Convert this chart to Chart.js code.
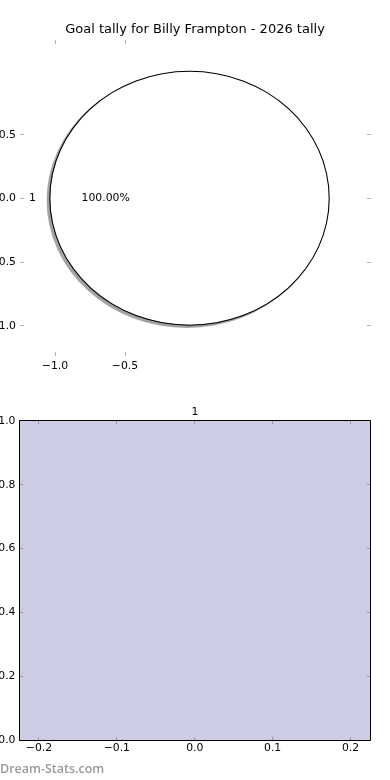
<!DOCTYPE html>
<html><head><meta charset="utf-8">
<script src="https://cdn.jsdelivr.net/npm/chart.js@4.4.1/dist/chart.umd.min.js"></script>
<style>
html,body{margin:0;padding:0;background:#fff;}
body{width:390px;height:780px;overflow:hidden;position:relative;}
canvas{position:absolute;display:block;}
#wm{position:absolute;left:0;top:763px;font:600 12.5px/12.5px 'Open Sans',sans-serif;color:#999;white-space:nowrap;}
</style></head><body>
<canvas id="axes" width="450" height="390" style="left:-30px;top:0px"></canvas>
<canvas id="shadow" width="361" height="300" style="left:9px;top:48px"></canvas>
<canvas id="pie" width="361" height="300" style="left:9px;top:48px"></canvas>
<canvas id="bar" width="450" height="390" style="left:-30px;top:390px"></canvas>
<div id="wm">Dream-Stats.com</div>
<script>
// ---- data ----
const titleText = 'Goal tally for Billy Frampton - 2026 tally';
const pieLabels = ['1'];
const pieValues = [1];
const pieXTicks = [-1.0, -0.5];
const pieYTicks = [0.5, 0.0, -0.5, -1.0];
const barCategories = ['1'];
const barValues = [1];
const barXTicks = [-0.2, -0.1, 0.0, 0.1, 0.2];
const barYTicks = [0.0, 0.2, 0.4, 0.6, 0.8, 1.0];

const FS = 10.83;
Chart.defaults.font.family = "'DejaVu Sans', sans-serif";
Chart.defaults.font.size = FS;
Chart.defaults.color = '#000';

const fmt = v => v.toFixed(1).replace('-', '\u2212');
const noGrid = { display: false, drawTicks: false, tickLength: 0 };
const spacerAxis = w => ({ type: 'linear', position: 'right', grid: noGrid, border: { display: false },
                           ticks: { display: false }, afterFit: s => { s.width = w; } });

const innerTicks = {
  id: 'innerTicks',
  afterDatasetsDraw(chart, args, o) {
    const {ctx, chartArea: a} = chart;
    const xs = chart.scales[o.x], ys = chart.scales[o.y];
    const T = Math.floor(a.top), B = Math.ceil(a.bottom), L = Math.floor(a.left), R = Math.ceil(a.right);
    const len = o.len;
    ctx.save();
    ctx.strokeStyle = o.color;
    ctx.lineWidth = 1;
    ctx.beginPath();
    xs.ticks.forEach(t => {
      const p = Math.floor(xs.getPixelForValue(t.value)) + 0.5;
      ctx.moveTo(p, T); ctx.lineTo(p, T + len);
      ctx.moveTo(p, B + 1); ctx.lineTo(p, B + 1 - len);
    });
    ys.ticks.forEach(t => {
      const q = Math.floor(ys.getPixelForValue(t.value)) + 0.5;
      ctx.moveTo(L, q); ctx.lineTo(L + len, q);
      ctx.moveTo(R + 1, q); ctx.lineTo(R + 1 - len, q);
    });
    ctx.stroke();
    if (o.frame) {
      ctx.strokeStyle = '#000';
      ctx.beginPath();
      ctx.rect(L + 0.5, T + 0.5, R - L, B - T);
      ctx.stroke();
    }
    ctx.restore();
  }
};

const pieShape = {
  id: 'pieShape',
  beforeDatasetsDraw(chart, args, o) {
    const arc = chart.getDatasetMeta(0).data[0];
    const ctx = chart.ctx;
    ctx.save();
    ctx.translate(arc.x, arc.y);
    ctx.scale(o.sx, 1);
    ctx.translate(-arc.x, -arc.y);
  },
  afterDatasetsDraw(chart, args, o) {
    const ctx = chart.ctx;
    ctx.restore();
    if (!o.labels) return;
    const outer = chart.getDatasetMeta(0).data;
    const meta = chart.getDatasetMeta(chart.data.datasets.length - 1);
    const total = pieValues.reduce((s, v) => s + v, 0);
    ctx.save();
    ctx.font = FS + "px 'DejaVu Sans', sans-serif";
    ctx.fillStyle = '#000';
    ctx.textBaseline = 'middle';
    meta.data.forEach((arc, i) => {
      const mid = (arc.startAngle + arc.endAngle) / 2;
      const r = outer[i].outerRadius - 0.5;
      const c = Math.cos(mid), s = Math.sin(mid);
      ctx.textAlign = c < -1e-6 ? 'right' : (c > 1e-6 ? 'left' : 'center');
      ctx.fillText(chart.data.labels[i], arc.x + c * 1.1 * r * o.sx, arc.y + s * 1.1 * r);
      ctx.textAlign = 'center';
      ctx.fillText((pieValues[i] / total * 100).toFixed(2) + '%', arc.x + c * 0.6 * r * o.sx, arc.y + s * 0.6 * r);
    });
    ctx.restore();
  }
};

// ---- top axes (pie frame) ----
new Chart(document.getElementById('axes'), {
  type: 'scatter',
  data: { datasets: [] },
  plugins: [innerTicks],
  options: {
    responsive: false, animation: false,
    layout: { padding: 0 },
    plugins: {
      legend: { display: false }, tooltip: { enabled: false },
      title: { display: true, text: titleText, color: '#000',
               font: { size: 13, weight: 'normal', lineHeight: 1.2 },
               padding: { top: 21.7, bottom: 2.7 } },
      innerTicks: { x: 'x', y: 'y', len: 4, color: '#b4b4b4', frame: false }
    },
    scales: {
      x: { type: 'linear', position: 'bottom', min: -1.25, max: 1.25, offset: false,
           grid: noGrid, border: { display: false },
           afterBuildTicks: s => { s.ticks = pieXTicks.map(v => ({ value: v })); },
           afterFit: s => { s.height = 35; },
           ticks: { padding: 4.3, color: '#000', maxRotation: 0, autoSkip: false, callback: v => fmt(v) } },
      y: { type: 'linear', position: 'left', min: -1.23, max: 1.245, offset: false,
           grid: noGrid, border: { display: false },
           afterBuildTicks: s => { s.ticks = pieYTicks.map(v => ({ value: v })); },
           afterFit: s => { s.width = 50; },
           ticks: { padding: 4, color: '#000', autoSkip: false, callback: v => fmt(v) } },
      yr: spacerAxis(50)
    }
  }
});

// ---- pie shadow ----
new Chart(document.getElementById('shadow'), {
  type: 'pie',
  data: { labels: pieLabels, datasets: [{ data: pieValues, backgroundColor: '#a3a3a3', borderWidth: 0 }] },
  plugins: [pieShape],
  options: {
    responsive: false, animation: false, rotation: 90, radius: 127.5,
    layout: { padding: { left: 0, right: 5.2, top: 4.9, bottom: 0 } },
    plugins: { legend: { display: false }, tooltip: { enabled: false },
               pieShape: { sx: 1.1, labels: false } }
  }
});

// ---- pie: thin black outer ring (edge) + white wedge ----
new Chart(document.getElementById('pie'), {
  type: 'pie',
  data: { labels: pieLabels, datasets: [
    { data: pieValues, backgroundColor: '#000000', borderWidth: 0, weight: 1 },
    { data: pieValues, backgroundColor: '#ffffff', borderWidth: 0, weight: 126.5 }
  ] },
  plugins: [pieShape],
  options: {
    responsive: false, animation: false, rotation: 90, radius: 127.5,
    layout: { padding: { left: 0, right: 0, top: 0.5, bottom: 0 } },
    plugins: { legend: { display: false }, tooltip: { enabled: false },
               pieShape: { sx: 1.1, labels: true } }
  }
});

// ---- bar ----
new Chart(document.getElementById('bar'), {
  type: 'bar',
  data: { labels: barCategories, datasets: [{ data: barValues, backgroundColor: '#ccccE5', borderWidth: 0,
           barPercentage: 1, categoryPercentage: 1, xAxisID: 'x', yAxisID: 'y' }] },
  plugins: [innerTicks],
  options: {
    responsive: false, animation: false,
    layout: { padding: 0 },
    plugins: {
      legend: { display: false }, tooltip: { enabled: false },
      title: { display: true, text: barCategories[0], color: '#000',
               font: { size: FS, weight: 'normal', lineHeight: 1.2 },
               padding: { top: 15.8, bottom: 2.2 } },
      innerTicks: { x: 'x2', y: 'y', len: 4, color: '#9a9aa6', frame: true }
    },
    scales: {
      x: { type: 'category', display: false, offset: true },
      x2: { type: 'linear', position: 'bottom', min: -0.225, max: 0.225, offset: false,
            grid: noGrid, border: { display: false },
            afterBuildTicks: s => { s.ticks = barXTicks.map(v => ({ value: v })); },
            afterFit: s => { s.height = 40; },
            ticks: { padding: 1.5, color: '#000', maxRotation: 0, autoSkip: false, callback: v => fmt(v) } },
      y: { type: 'linear', position: 'left', min: 0, max: 1, offset: false,
           grid: noGrid, border: { display: false },
           afterBuildTicks: s => { s.ticks = barYTicks.map(v => ({ value: v })); },
           afterFit: s => { s.width = 49.5; },
           ticks: { padding: 4, color: '#000', autoSkip: false, callback: v => fmt(v) } },
      yr: spacerAxis(50)
    }
  }
});
</script>
</body></html>
